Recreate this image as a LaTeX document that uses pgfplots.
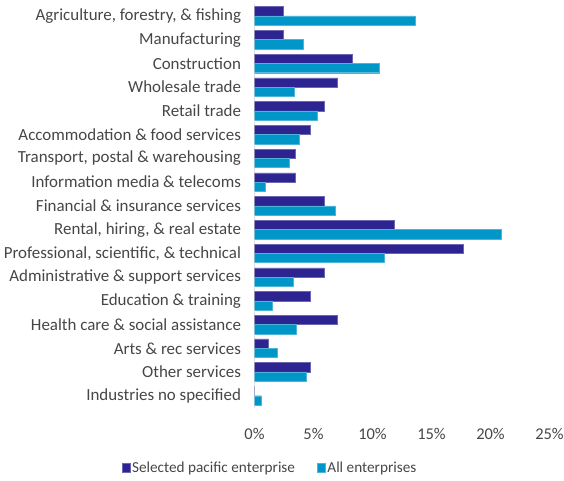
\documentclass[border=0pt]{standalone}
\usepackage{pgfplots}
\pgfplotsset{compat=1.18}
\usepackage{fontspec}
\setmainfont{Carlito}
\definecolor{pacific}{RGB}{45,35,145}
\definecolor{allent}{RGB}{0,150,199}
\definecolor{txt}{RGB}{70,70,70}
\begin{document}
\begin{tikzpicture}[x=1bp,y=1bp]
\path[use as bounding box] (0,0) rectangle (564,481);
\begin{axis}[
  at={(254.5bp,73.4bp)}, anchor=south west,
  scale only axis, width=295bp, height=403.5bp,
  xbar, bar width=9.3bp,
  xmin=0, xmax=25, ymin=-0.5, ymax=16.5,
  y dir=reverse,
  xtick={0,5,...,25},
  xticklabel={\pgfmathprintnumber{\tick}\%},
  ytick={0,...,16},
  yticklabels={{Agriculture, forestry, \& fishing}, Manufacturing, Construction,
    Wholesale trade, Retail trade, Accommodation \& food services,
    {Transport, postal \& warehousing}, Information media \& telecoms,
    Financial \& insurance services, {Rental, hiring, \& real estate},
    {Professional, scientific, \& technical}, Administrative \& support services,
    Education \& training, Health care \& social assistance, Arts \& rec services,
    Other services, Industries no specified},
  axis x line*=bottom,
  x axis line style={draw=none},
  axis y line*=left,
  y axis line style={draw=black!12, line width=1.2pt},
  major tick length=0pt,
  tick label style={font=\fontsize{16.5}{18}\selectfont, text=txt},
  yticklabel style={xshift=-10bp, font=\fontsize{17}{18}\selectfont},
  xticklabel style={yshift=-17bp},
  /pgf/number format/assume math mode=true,
  legend style={at={(0.0525,-0.149)}, anchor=center, legend columns=2,
    draw=none, fill=none, font=\fontsize{15.3}{17}\selectfont, text=txt,
    /tikz/every even column/.append style={column sep=20bp}},
  legend image code/.code={\fill[#1] (0bp,-4.5bp) rectangle (8bp,4.5bp);},
]
\addplot[fill=pacific, draw=pacific!70, bar shift=4.65bp] coordinates {
(2.4,0) (2.4,1) (8.3,2) (7.05,3) (5.9,4) (4.7,5) (3.46,6) (3.46,7) (5.9,8)
(11.85,9) (17.7,10) (5.9,11) (4.7,12) (7.05,13) (1.17,14) (4.7,15) (0,16)};
\addlegendentry{Selected pacific enterprise}
\addplot[fill=allent, draw=allent!70, bar shift=-4.65bp] coordinates {
(13.6,0) (4.1,1) (10.6,2) (3.4,3) (5.35,4) (3.77,5) (2.95,6) (0.92,7) (6.85,8)
(20.9,9) (11.0,10) (3.26,11) (1.54,12) (3.54,13) (1.9,14) (4.4,15) (0.58,16)};
\addlegendentry{All enterprises}
\end{axis}
\end{tikzpicture}
\end{document}
